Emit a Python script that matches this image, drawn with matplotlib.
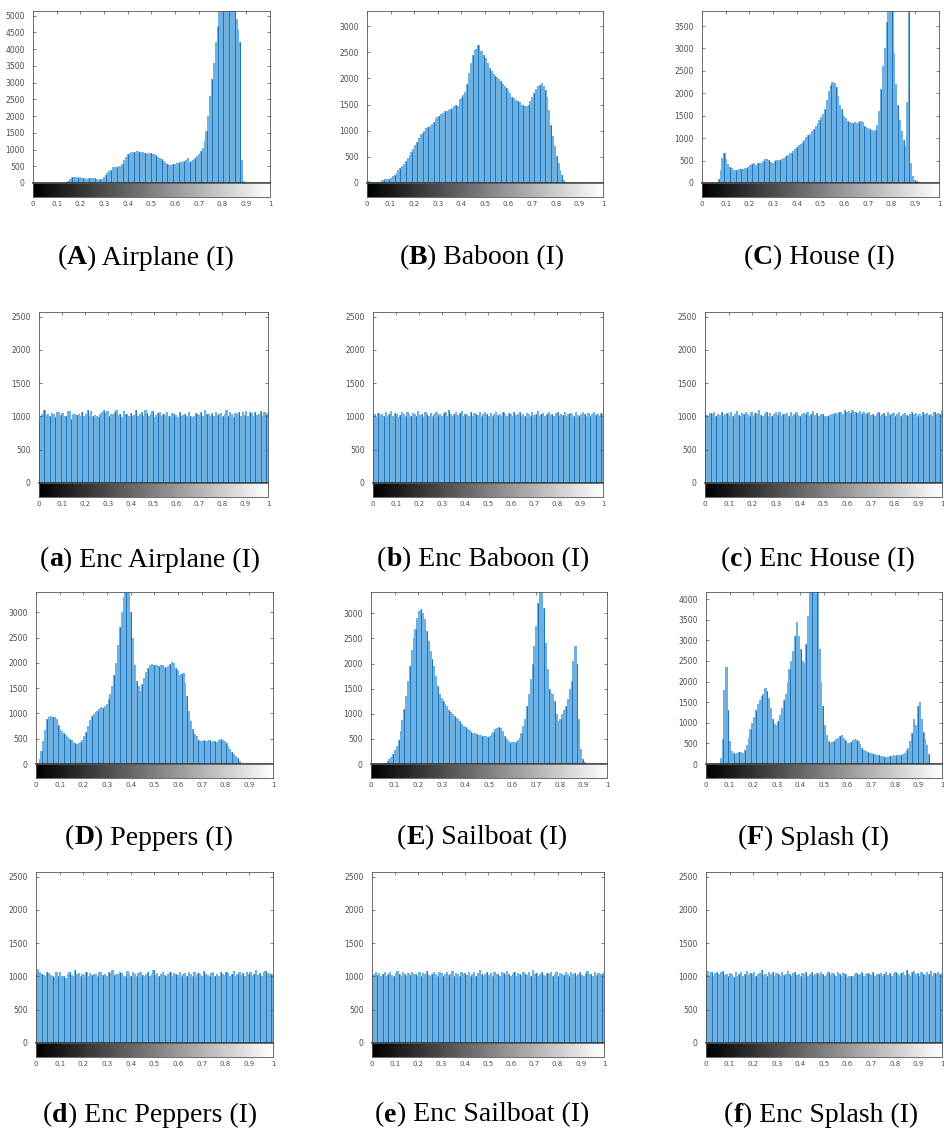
import numpy as np
import matplotlib
matplotlib.use('Agg')
import matplotlib.pyplot as plt

# 直方图数据（128 个灰度区间，从图中读取）
airplane = [0, 0, 0, 0, 0, 0, 0, 0, 0, 0, 0, 0, 0, 0, 0, 0, 0, 0,
            40, 60, 110, 170, 180, 170, 160, 170, 150, 140, 150, 130, 140, 150, 160, 140,
            110, 100, 110, 120, 180, 230, 290, 350, 400, 470, 490, 480, 500, 510, 580, 690,
            790, 860, 900, 930, 940, 930, 950, 940, 930, 920, 910, 890, 880, 900, 870, 860,
            840, 790, 760, 720, 660, 600, 560, 550, 540, 560, 580, 590, 600, 620, 640, 650,
            690, 740, 620, 650, 700, 760, 800, 880, 950, 1050, 1250, 1550, 2000, 2600, 3100, 3600,
            4200, 4700, 5300, 5600, 6000, 6200, 6100, 5900, 5700, 5500, 5300, 4900, 4600, 4200, 700, 60,
            0, 0, 0, 0, 0, 0, 0, 0, 0, 0, 0, 0, 0, 0]
baboon = [30, 30, 25, 10, 10, 10, 15, 20, 50, 60, 70, 80, 80, 100, 130, 160,
          200, 240, 280, 330, 370, 430, 480, 540, 600, 650, 720, 790, 860, 940, 960, 1000,
          1050, 1080, 1090, 1120, 1170, 1220, 1260, 1290, 1320, 1340, 1370, 1380, 1400, 1420, 1440, 1480,
          1500, 1470, 1600, 1650, 1690, 1750, 1900, 2100, 2300, 2450, 2550, 2560, 2640, 2530, 2520, 2450,
          2400, 2300, 2200, 2150, 2080, 2050, 2020, 1980, 1960, 1900, 1850, 1820, 1780, 1720, 1650, 1620,
          1580, 1560, 1540, 1500, 1500, 1480, 1470, 1500, 1560, 1650, 1720, 1800, 1850, 1880, 1920, 1850,
          1780, 1650, 1400, 1100, 900, 700, 520, 380, 250, 150, 60, 10, 0, 0, 0, 0,
          0, 0, 0, 0, 0, 0, 0, 0, 0, 0, 0, 0, 0, 0, 0, 0]
house = [0, 0, 0, 0, 0, 0, 0, 0, 20, 80, 300, 550, 680, 530, 420, 360,
         330, 300, 300, 290, 310, 320, 310, 330, 340, 360, 400, 420, 440, 410, 450, 450,
         440, 480, 530, 540, 510, 460, 440, 490, 510, 520, 510, 530, 560, 610, 630, 660,
         680, 720, 760, 800, 850, 880, 920, 960, 1020, 1070, 1100, 1150, 1200, 1270, 1330, 1400,
         1480, 1530, 1650, 1850, 2050, 2180, 2250, 2230, 2150, 1950, 1750, 1650, 1500, 1450, 1380, 1360,
         1330, 1340, 1360, 1340, 1350, 1380, 1360, 1280, 1240, 1220, 1200, 1180, 1170, 1190, 1300, 1600,
         2100, 2600, 3000, 3600, 4500, 4800, 4000, 2900, 2200, 1750, 1400, 1150, 950, 820, 1800, 4200,
         450, 150, 60, 40, 20, 0, 0, 0, 0, 0, 0, 0, 0, 0, 0, 0]
peppers = [0, 20, 100, 250, 450, 680, 880, 930, 950, 920, 920, 880, 780, 700, 650, 620,
           580, 540, 500, 470, 440, 410, 390, 420, 430, 480, 560, 640, 750, 860, 940, 990,
           1020, 1040, 1080, 1120, 1100, 1150, 1190, 1280, 1380, 1550, 1750, 2000, 2350, 2700, 3000, 3300,
           3600, 3800, 3700, 3000, 2500, 1950, 1650, 1550, 1450, 1580, 1700, 1820, 1900, 1960, 1980, 1950,
           1960, 1950, 1940, 1960, 1950, 1920, 1900, 1940, 1980, 2020, 2000, 1900, 1850, 1750, 1780, 1800,
           1600, 1350, 1050, 850, 700, 600, 550, 480, 450, 460, 470, 450, 460, 470, 440, 450,
           460, 440, 480, 490, 470, 460, 420, 360, 290, 240, 200, 160, 110, 60, 20, 0,
           0, 0, 0, 0, 0, 0, 0, 0, 0, 0, 0, 0, 0, 0, 0, 0]
sailboat = [0, 0, 0, 0, 0, 0, 0, 10, 20, 50, 90, 140, 190, 270, 350, 480,
            650, 880, 1100, 1350, 1650, 1950, 2280, 2500, 2680, 2900, 3050, 3080, 3000, 2880, 2650, 2450,
            2250, 2100, 1950, 1750, 1550, 1400, 1320, 1250, 1200, 1150, 1080, 1040, 990, 960, 920, 890,
            850, 800, 760, 730, 700, 670, 640, 620, 610, 600, 580, 570, 560, 555, 550, 545,
            560, 600, 640, 690, 720, 740, 720, 650, 560, 490, 450, 420, 430, 430, 440, 470,
            520, 620, 750, 900, 1150, 1400, 1700, 2000, 2350, 2750, 3200, 3700, 3900, 3100, 2400, 1900,
            1500, 1420, 1400, 1250, 1000, 850, 900, 1000, 1080, 1150, 1300, 1500, 1650, 2050, 2350, 2000,
            900, 300, 100, 30, 0, 0, 0, 0, 0, 0, 0, 0, 0, 0, 0, 0]
splash = [0, 0, 0, 0, 0, 0, 0, 20, 150, 600, 1800, 2350, 1300, 550, 320, 260,
          240, 260, 280, 300, 270, 330, 450, 620, 850, 1000, 1150, 1300, 1450, 1550, 1650, 1700,
          1850, 1780, 1600, 1350, 1100, 980, 950, 1050, 1200, 1350, 1550, 1700, 2000, 2300, 2500, 2750,
          3100, 3450, 3100, 2800, 2500, 2450, 2900, 3600, 4400, 4600, 4700, 4500, 4300, 2800, 2000, 1400,
          950, 700, 560, 510, 530, 560, 600, 630, 680, 700, 640, 580, 520, 500, 540, 570,
          600, 580, 560, 480, 400, 340, 310, 290, 270, 260, 250, 240, 220, 210, 200, 190,
          180, 180, 170, 190, 200, 210, 200, 210, 220, 230, 250, 270, 330, 400, 550, 750,
          1100, 950, 1400, 1500, 1100, 780, 600, 450, 250, 0, 0, 0, 0, 0, 0, 0]

enc_airplane = [950, 1010, 1040, 1090, 1020, 1030, 1000, 1050, 1040, 990, 1070, 1060, 1020, 1050, 1010, 1000,
                1080, 1080, 960, 1030, 1040, 1020, 1030, 1010, 1060, 1000, 1040, 1100, 1000, 1080, 1000, 1020,
                1010, 990, 1040, 1060, 1090, 1050, 1080, 1000, 1040, 1030, 1060, 1100, 1020, 1030, 990, 1080,
                1030, 1040, 1010, 1050, 1000, 1020, 1090, 1000, 1040, 1060, 1010, 1100, 1050, 1000, 1030, 1080,
                990, 1020, 1050, 1060, 1000, 1040, 1020, 1070, 1010, 1000, 1050, 1030, 1020, 990, 1060, 1000,
                1020, 1040, 1000, 1070, 1010, 990, 1000, 1050, 1040, 1020, 1060, 1000, 1090, 1030, 1040, 1010,
                1050, 1000, 1060, 1020, 1030, 1050, 1010, 1040, 1100, 1000, 1060, 1030, 990, 1050, 1040, 1060,
                1000, 1070, 1020, 1080, 1000, 1060, 1050, 1010, 1070, 1020, 1040, 1080, 1000, 1060, 1030, 1050]
enc_baboon = [1000, 1030, 990, 1050, 1020, 1040, 1000, 1060, 1010, 1030, 1080, 1000, 1050, 1040, 990, 1020,
              1070, 1030, 1000, 1060, 1040, 1010, 1050, 1030, 1000, 1080, 1020, 1040, 990, 1060, 1030, 1010,
              1050, 1000, 1040, 1070, 1020, 1030, 1000, 1050, 1060, 1010, 1090, 1040, 1000, 1030, 1060, 1020,
              1050, 1080, 1000, 1040, 1030, 1010, 1060, 1000, 1050, 1040, 1020, 1070, 1000, 1030, 1060, 1040,
              1010, 1050, 1000, 1030, 1070, 1020, 1040, 1000, 1060, 1030, 1010, 1050, 1040, 1000, 1070, 1020,
              1030, 1060, 1000, 1040, 1010, 1050, 1030, 1000, 1060, 1020, 1040, 1080, 1010, 1030, 1050, 1000,
              1040, 1060, 1020, 1030, 1000, 1050, 1070, 1010, 1040, 1020, 1060, 1000, 1030, 1050, 1040, 1010,
              1070, 1020, 1000, 1040, 1060, 1030, 1010, 1050, 1000, 1040, 1060, 1020, 1030, 1000, 1050, 1040]
enc_house = [1060, 1020, 1000, 1050, 1030, 1060, 1000, 1040, 1020, 1070, 1000, 1030, 1050, 1010, 1060, 1000,
             1040, 1080, 1020, 1000, 1050, 1030, 1060, 1040, 1010, 1070, 1000, 1050, 1030, 1090, 1020, 1000,
             1040, 1060, 1010, 1050, 1000, 1030, 1070, 1020, 1060, 1000, 1040, 1030, 1050, 1010, 1070, 1000,
             1040, 1060, 1020, 1000, 1030, 1050, 1040, 1070, 1010, 1030, 1080, 1020, 1050, 1000, 1040, 1030,
             1000, 1010, 1000, 1020, 1030, 1040, 1050, 1030, 1060, 1070, 1040, 1090, 1060, 1080, 1050, 1090,
             1070, 1060, 1050, 1080, 1040, 1070, 1030, 1050, 1060, 1020, 1040, 1000, 1030, 1060, 1010, 1040,
             1050, 1000, 1070, 1020, 1030, 1050, 1000, 1040, 1060, 1010, 1030, 1050, 1020, 1000, 1040, 1060,
             1030, 1050, 1010, 1040, 1000, 1060, 1030, 1050, 1020, 1040, 1000, 1060, 1030, 1050, 1040, 1090]
enc_peppers = [1050, 1110, 1060, 1040, 1020, 1000, 1060, 1050, 1020, 1010, 990, 1070, 1000, 1060, 1010, 1000,
               980, 1040, 1060, 1020, 1000, 1100, 1030, 1050, 1010, 1040, 1020, 1060, 1000, 1050, 1020, 1030,
               1040, 1000, 1060, 1070, 1020, 1030, 1000, 1060, 1050, 1100, 1020, 1040, 1030, 1060, 1050, 1010,
               1000, 1080, 1040, 1010, 1060, 1030, 1000, 1050, 1070, 1020, 1000, 1040, 1060, 1010, 1030, 1090,
               1020, 1050, 1000, 1040, 1060, 1020, 1000, 1030, 1070, 1010, 1050, 1040, 1020, 1060, 1000, 1030,
               1050, 1010, 1070, 1040, 1000, 1060, 1020, 1050, 1030, 1010, 1080, 1040, 1020, 1000, 1050, 1060,
               1010, 1030, 1000, 1070, 1040, 1020, 1060, 1050, 1000, 1030, 1080, 1010, 1040, 1060, 1020, 1050,
               1000, 1070, 1030, 1060, 1010, 1040, 1090, 1020, 1050, 1000, 1060, 1080, 1030, 1050, 1040, 1030]
enc_sailboat = [1000, 1040, 1060, 1020, 1050, 1000, 1030, 1070, 1010, 1040, 1060, 1020, 1000, 1050, 1080, 1030,
                1010, 1060, 1040, 1000, 1050, 1020, 1070, 1030, 1040, 1000, 1060, 1010, 1050, 1030, 1080, 1020,
                1000, 1040, 1060, 1030, 1010, 1070, 1050, 1000, 1040, 1060, 1020, 1030, 1080, 1010, 1050, 1040,
                1000, 1060, 1030, 1050, 1020, 1070, 1000, 1040, 1060, 1010, 1050, 1090, 1030, 1000, 1040, 1060,
                1020, 1050, 1010, 1070, 1030, 1040, 1000, 1060, 1050, 1020, 1080, 1030, 1000, 1040, 1060, 1010,
                1050, 1030, 1000, 1070, 1040, 1020, 1060, 1000, 1100, 1030, 1050, 1010, 1040, 1060, 1020, 1000,
                1050, 1030, 1070, 1010, 1040, 1060, 1000, 1050, 1030, 1020, 1060, 1040, 1000, 1070, 1030, 1050,
                1010, 1040, 1060, 1020, 1000, 1050, 1080, 1030, 1040, 1000, 1060, 1020, 1050, 1030, 1040, 1060]
enc_splash = [1040, 1080, 1020, 1060, 1000, 1050, 1070, 1030, 1060, 1080, 1020, 1040, 1000, 1050, 1030, 990,
              1060, 1010, 1040, 1070, 1000, 1030, 1080, 1020, 1050, 1040, 1060, 1000, 1030, 1050, 1090, 1020,
              1040, 1000, 1060, 1030, 1070, 1010, 1050, 1040, 1000, 1060, 1020, 1030, 1080, 1040, 1000, 1050,
              1060, 1020, 1030, 1000, 1050, 1040, 1070, 1010, 1030, 1060, 1000, 1040, 1050, 1020, 1060, 1030,
              1000, 1040, 1070, 1020, 1050, 1030, 1000, 1060, 1040, 1010, 1050, 1030, 990, 1000, 1010, 1000,
              1030, 1050, 1020, 1040, 1060, 1000, 1030, 1050, 1040, 1020, 1060, 1000, 1040, 1030, 1050, 1010,
              1040, 1060, 1020, 1050, 1000, 1030, 1070, 1040, 1010, 1050, 1060, 1020, 1100, 1040, 1000, 1060,
              1080, 1030, 1050, 1000, 1070, 1040, 1020, 1060, 1030, 1080, 1000, 1050, 1040, 1060, 1030, 1050]

# 每行三个子图：数据、纵轴上限、刻度步长、图注
panel_data = [[airplane, baboon, house],
              [enc_airplane, enc_baboon, enc_house],
              [peppers, sailboat, splash],
              [enc_peppers, enc_sailboat, enc_splash]]
panel_ymax = [[5140, 3290, 3835], [2570, 2570, 2570], [3400, 3425, 4170], [2570, 2570, 2570]]
panel_ytop = [[5000, 3000, 3500], [2500, 2500, 2500], [3000, 3000, 4000], [2500, 2500, 2500]]
letters = [['A', 'B', 'C'], ['a', 'b', 'c'], ['D', 'E', 'F'], ['d', 'e', 'f']]
names = [[' Airplane (I)', ' Baboon (I)', ' House (I)'],
         [' Enc Airplane (I)', ' Enc Baboon (I)', ' Enc House (I)'],
         [' Peppers (I)', ' Sailboat (I)', ' Splash (I)'],
         [' Enc Peppers (I)', ' Enc Sailboat (I)', ' Enc Splash (I)']]

# 版面位置（像素）
W, H = 945, 1138
row_y = [(11, 183), (312, 483), (592, 764), (872, 1043)]
col_x = [[(33, 270), (367, 603), (702, 939)],
         [(39, 268), (373, 603), (705, 942)],
         [(36, 273), (371, 607), (706, 942)],
         [(36, 273), (372, 604), (706, 942)]]
cap_y = [258, 560, 838, 1115]
cap_x = [[146, 482, 819], [150, 483, 818], [149, 482, 813], [150, 482, 821]]
cbar_h = 14

tick_color = '#4d4d4d'
fig = plt.figure(figsize=(W / 100, H / 100), dpi=100)
gradient = np.linspace(0, 1, 256).reshape(1, -1)

caps = []
for r in range(4):
    top, zero = row_y[r]
    for c in range(3):
        L, R = col_x[r][c]
        vals = np.array(panel_data[r][c])
        x = np.linspace(0, 1, len(vals))
        ax = fig.add_axes([L / W, 1 - zero / H, (R - L) / W, (zero - top) / H])
        ax.bar(x, vals, width=1.25 / len(vals), color='#6eb0e0', linewidth=0)
        ax.vlines(x[::3], 0, vals[::3], color='#1a74bd', linewidth=0.7)
        ax.set_xlim(0, 1)
        ax.set_ylim(0, panel_ymax[r][c])
        ax.set_xticks(np.arange(0, 1.01, 0.1))
        ax.set_xticklabels([])
        ax.set_yticks(np.arange(0, panel_ytop[r][c] + 1, 500))
        ax.tick_params(direction='in', length=2.5, width=0.5, colors=tick_color,
                       labelsize=5.5, top=True, right=True, bottom=False, pad=6)
        for s in ax.spines.values():
            s.set_color('#555555')
            s.set_linewidth(0.6)
        ax.spines['bottom'].set_color('#333333')
        ax.spines['bottom'].set_linewidth(1.2)

        cax = fig.add_axes([L / W, 1 - (zero + cbar_h) / H, (R - L) / W, cbar_h / H])
        cax.imshow(gradient, cmap='gray', aspect='auto', extent=[0, 1, 0, 1])
        cax.set_xlim(0, 1)
        cax.set_yticks([])
        cax.set_xticks(np.arange(0, 1.01, 0.1))
        cax.set_xticklabels(['0', '0.1', '0.2', '0.3', '0.4', '0.5', '0.6', '0.7', '0.8', '0.9', '1'])
        cax.tick_params(length=0, labelsize=5, colors=tick_color, pad=3)
        for s in cax.spines.values():
            s.set_color('#555555')
            s.set_linewidth(0.6)

        parts = [fig.text(0, 0, '(', fontsize=20, family='Liberation Serif'),
                 fig.text(0, 0, letters[r][c], fontsize=20, family='Liberation Serif', weight='bold'),
                 fig.text(0, 0, ')' + names[r][c], fontsize=20, family='Liberation Serif')]
        caps.append((parts, cap_x[r][c], cap_y[r]))

# 图注居中排布
fig.canvas.draw()
renderer = fig.canvas.get_renderer()
for parts, cx, cy in caps:
    widths = [p.get_window_extent(renderer).width for p in parts]
    xpos = cx - sum(widths) / 2
    for p, w in zip(parts, widths):
        p.set_position((xpos / W, 1 - cy / H))
        p.set_va('center')
        xpos += w

fig.savefig('out.png', dpi=100)
